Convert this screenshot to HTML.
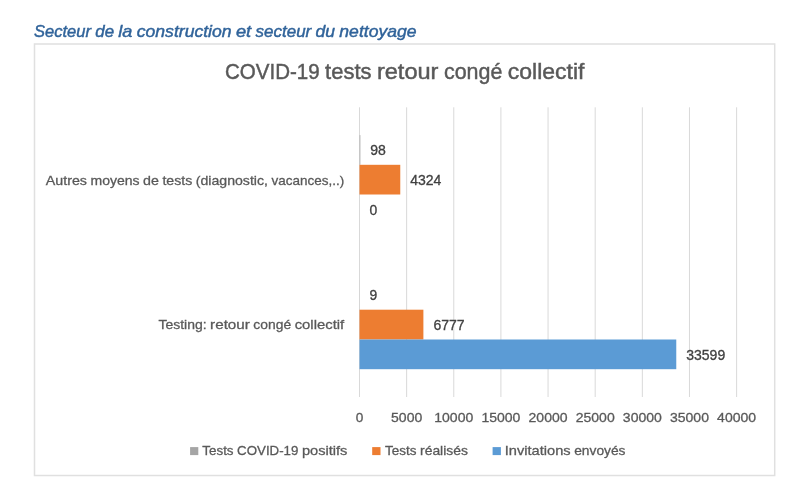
<!DOCTYPE html>
<html lang="fr">
<head>
<meta charset="utf-8">
<title>COVID-19 tests retour congé collectif</title>
<style>
html,body{margin:0;padding:0;background:#fff;}
body{width:800px;height:494px;overflow:hidden;position:relative;font-family:"Liberation Sans",sans-serif;}
svg{position:absolute;left:0;top:0;display:block;}
text{font-family:"Liberation Sans",sans-serif;}
.h{font-style:italic;font-size:17px;fill:#30639a;stroke:#30639a;stroke-width:.45px;}
.t{font-size:21.6px;fill:#595959;stroke:#595959;stroke-width:.45px;}
.l{font-size:13.6px;fill:#595959;stroke:#595959;stroke-width:.3px;}
.d{font-size:13.9px;fill:#404040;stroke:#404040;stroke-width:.3px;}
.g line{stroke:#d9d9d9;stroke-width:1;}
</style>
</head>
<body>
<svg width="800" height="494" viewBox="0 0 800 494">
<rect x="0" y="0" width="800" height="494" fill="#ffffff"/>
<text class="h" y="36.8"><tspan x="34.00" textLength="56.97" lengthAdjust="spacingAndGlyphs">Secteur</tspan> <tspan x="95.25" textLength="18.80" lengthAdjust="spacingAndGlyphs">de</tspan> <tspan x="118.34" textLength="14.10" lengthAdjust="spacingAndGlyphs">la</tspan> <tspan x="136.73" textLength="94.90" lengthAdjust="spacingAndGlyphs">construction</tspan> <tspan x="235.92" textLength="15.30" lengthAdjust="spacingAndGlyphs">et</tspan> <tspan x="255.51" textLength="55.77" lengthAdjust="spacingAndGlyphs">secteur</tspan> <tspan x="315.57" textLength="19.50" lengthAdjust="spacingAndGlyphs">du</tspan> <tspan x="339.35" textLength="77.15" lengthAdjust="spacingAndGlyphs">nettoyage</tspan></text>
<rect x="34.5" y="44" width="740.2" height="431.5" fill="#ffffff" stroke="#e0e0e0" stroke-width="1.5"/>
<text class="t" y="78.7"><tspan x="225.00" textLength="94.63" lengthAdjust="spacingAndGlyphs">COVID-19</tspan> <tspan x="325.07" textLength="46.43" lengthAdjust="spacingAndGlyphs">tests</tspan> <tspan x="376.95" textLength="61.52" lengthAdjust="spacingAndGlyphs">retour</tspan> <tspan x="443.91" textLength="58.46" lengthAdjust="spacingAndGlyphs">congé</tspan> <tspan x="507.82" textLength="76.68" lengthAdjust="spacingAndGlyphs">collectif</tspan></text>
<g class="g"><line x1="359.50" y1="107.3" x2="359.50" y2="397"/><line x1="406.64" y1="107.3" x2="406.64" y2="397"/><line x1="453.78" y1="107.3" x2="453.78" y2="397"/><line x1="500.92" y1="107.3" x2="500.92" y2="397"/><line x1="548.06" y1="107.3" x2="548.06" y2="397"/><line x1="595.20" y1="107.3" x2="595.20" y2="397"/><line x1="642.34" y1="107.3" x2="642.34" y2="397"/><line x1="689.48" y1="107.3" x2="689.48" y2="397"/><line x1="736.62" y1="107.3" x2="736.62" y2="397"/></g>
<rect x="359.5" y="135.1" width="0.92" height="29.7" fill="#b4b4b4"/>
<rect x="359.5" y="164.8" width="40.77" height="29.7" fill="#ed7d31"/>
<rect x="359.5" y="280" width="0.08" height="29.7" fill="#b4b4b4"/>
<rect x="359.5" y="309.7" width="63.89" height="29.8" fill="#ed7d31"/>
<rect x="359.5" y="339.5" width="316.77" height="29.7" fill="#5b9bd5"/>
<text class="l" y="184.5"><tspan x="45.80" textLength="41.19" lengthAdjust="spacingAndGlyphs">Autres</tspan> <tspan x="90.48" textLength="49.11" lengthAdjust="spacingAndGlyphs">moyens</tspan> <tspan x="143.09" textLength="15.82" lengthAdjust="spacingAndGlyphs">de</tspan> <tspan x="162.41" textLength="29.82" lengthAdjust="spacingAndGlyphs">tests</tspan> <tspan x="195.72" textLength="72.23" lengthAdjust="spacingAndGlyphs">(diagnostic,</tspan> <tspan x="271.44" textLength="72.76" lengthAdjust="spacingAndGlyphs">vacances,..)</tspan></text>
<text class="l" y="328.9"><tspan x="158.40" textLength="48.19" lengthAdjust="spacingAndGlyphs">Testing:</tspan> <tspan x="210.11" textLength="39.75" lengthAdjust="spacingAndGlyphs">retour</tspan> <tspan x="253.37" textLength="37.77" lengthAdjust="spacingAndGlyphs">congé</tspan> <tspan x="294.66" textLength="49.54" lengthAdjust="spacingAndGlyphs">collectif</tspan></text>
<g class="l">
<text x="359.50" y="421.5" text-anchor="middle">0</text><text x="406.64" y="421.5" text-anchor="middle" textLength="31.2" lengthAdjust="spacingAndGlyphs">5000</text><text x="453.78" y="421.5" text-anchor="middle" textLength="39.0" lengthAdjust="spacingAndGlyphs">10000</text><text x="500.92" y="421.5" text-anchor="middle" textLength="39.0" lengthAdjust="spacingAndGlyphs">15000</text><text x="548.06" y="421.5" text-anchor="middle" textLength="39.0" lengthAdjust="spacingAndGlyphs">20000</text><text x="595.20" y="421.5" text-anchor="middle" textLength="39.0" lengthAdjust="spacingAndGlyphs">25000</text><text x="642.34" y="421.5" text-anchor="middle" textLength="39.0" lengthAdjust="spacingAndGlyphs">30000</text><text x="689.48" y="421.5" text-anchor="middle" textLength="39.0" lengthAdjust="spacingAndGlyphs">35000</text><text x="736.62" y="421.5" text-anchor="middle" textLength="39.0" lengthAdjust="spacingAndGlyphs">40000</text>
</g>
<g class="d">
<text x="370.2" y="154.7" textLength="15.6" lengthAdjust="spacingAndGlyphs">98</text>
<text x="410.2" y="184.7" textLength="31.2" lengthAdjust="spacingAndGlyphs">4324</text>
<text x="369.6" y="214.6">0</text>
<text x="369.5" y="299.5">9</text>
<text x="433.4" y="329.8" textLength="31.2" lengthAdjust="spacingAndGlyphs">6777</text>
<text x="686.2" y="360" textLength="39.0" lengthAdjust="spacingAndGlyphs">33599</text>
</g>
<rect x="190.1" y="447.1" width="8.2" height="8" fill="#a5a5a5"/>
<rect x="372.2" y="447.1" width="8.3" height="8" fill="#ed7d31"/>
<rect x="492.6" y="447.1" width="8.3" height="8" fill="#5b9bd5"/>
<text class="l" y="455.2"><tspan x="202.30" textLength="31.25" lengthAdjust="spacingAndGlyphs">Tests</tspan> <tspan x="237.08" textLength="61.32" lengthAdjust="spacingAndGlyphs">COVID-19</tspan> <tspan x="301.92" textLength="45.48" lengthAdjust="spacingAndGlyphs">positifs</tspan></text>
<text class="l" y="455.2"><tspan x="385.10" textLength="31.40" lengthAdjust="spacingAndGlyphs">Tests</tspan> <tspan x="420.05" textLength="47.85" lengthAdjust="spacingAndGlyphs">réalisés</tspan></text>
<text class="l" y="455.2"><tspan x="504.80" textLength="65.87" lengthAdjust="spacingAndGlyphs">Invitations</tspan> <tspan x="574.18" textLength="51.32" lengthAdjust="spacingAndGlyphs">envoyés</tspan></text>
</svg>
</body>
</html>
